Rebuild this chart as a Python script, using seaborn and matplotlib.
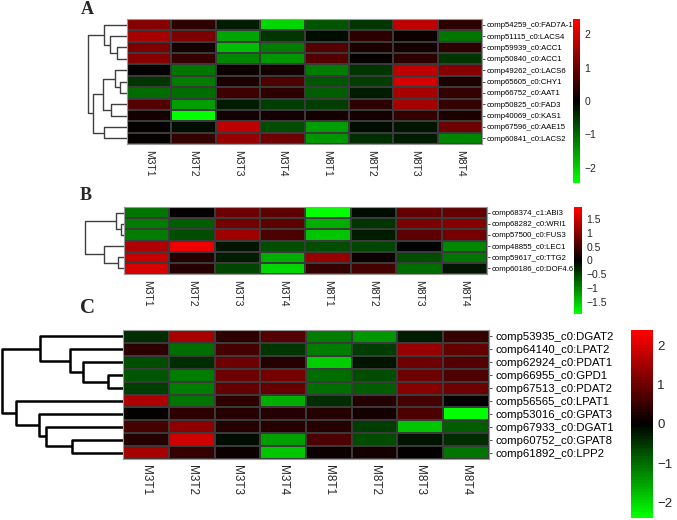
import numpy as np
import pandas as pd
import matplotlib
matplotlib.use("Agg")
import matplotlib.pyplot as plt
import seaborn as sns
from matplotlib.colors import LinearSegmentedColormap

# Samples (columns, same for all panels)
samples = ["M3T1", "M3T2", "M3T3", "M3T4", "M8T1", "M8T2", "M8T3", "M8T4"]

# Panel A: fatty acid genes
a_genes = ["comp54259_c0:FAD7A-1", "comp51115_c0:LACS4", "comp59939_c0:ACC1",
           "comp50840_c0:ACC1", "comp49262_c0:LACS6", "comp65605_c0:CHY1",
           "comp66752_c0:AAT1", "comp50825_c0:FAD3", "comp40069_c0:KAS1",
           "comp67596_c0:AAE15", "comp60841_c0:LACS2"]
a_values = [
    [1.3, 0.4, -0.3, -2.0, -0.8, -0.5, 1.8, 0.4],
    [1.6, 1.2, -1.6, -0.5, -0.1, 0.4, 0.1, -1.1],
    [1.2, 0.2, -1.8, -1.2, 0.8, 0.3, 0.2, 0.4],
    [1.3, 0.5, -1.3, -1.4, 0.8, 0.0, 0.4, -0.5],
    [0.0, -1.1, 0.1, 0.2, -1.2, -0.5, 1.8, 1.3],
    [-0.5, -1.2, 0.3, 0.7, -0.8, -0.6, 2.0, 0.3],
    [-1.0, -1.0, 0.6, 0.4, -0.9, -0.3, 1.6, 0.5],
    [0.8, -1.5, -0.3, -0.6, -0.6, 0.4, 1.6, 0.5],
    [0.2, -2.4, 0.2, 0.2, 0.2, 0.2, 0.5, 0.3],
    [0.0, -0.1, 1.8, -0.7, -1.5, -0.1, -0.2, 1.0],
    [0.0, 0.5, 1.4, 1.0, -1.4, -0.4, -0.3, -1.3],
]
# merges: (child, child, height); leaves 0..n-1, new nodes n, n+1, ...
a_links = [(2, 3, 10), (1, 11, 16.7), (0, 12, 22.7), (5, 6, 6.7), (4, 14, 12.3),
           (7, 8, 16), (15, 16, 24.3), (9, 10, 22.7), (17, 18, 34), (13, 19, 39.3)]

# Panel B: transcription factors
b_genes = ["comp68374_c1:ABI3", "comp68282_c0:WRI1", "comp57500_c0:FUS3",
           "comp48855_c0:LEC1", "comp59617_c0:TTG2", "comp60186_c0:DOF4.6"]
b_values = [
    [-0.9, 0.0, 0.8, 0.7, -1.9, -0.1, 0.75, 0.75],
    [-0.95, -0.7, 0.9, 0.7, -1.3, -0.4, 0.95, 1.0],
    [-0.95, -0.55, 1.2, 0.6, -1.5, -0.2, 0.7, 0.9],
    [1.3, 1.8, -0.15, -0.55, -0.6, -0.5, -0.05, -1.0],
    [1.5, 0.3, -0.2, -1.3, 1.1, 0.1, -0.6, -0.9],
    [1.6, 0.3, -0.5, -1.6, 0.4, 0.5, -0.8, -0.15],
]
b_links = [(1, 2, 3.3), (0, 6, 8.3), (4, 5, 5.7), (3, 8, 20), (7, 9, 39)]

# Panel C: TAG assembly genes
c_genes = ["comp53935_c0:DGAT2", "comp64140_c0:LPAT2", "comp62924_c0:PDAT1",
           "comp66955_c0:GPD1", "comp67513_c0:PDAT2", "comp56565_c0:LPAT1",
           "comp53016_c0:GPAT3", "comp67933_c0:DGAT1", "comp60752_c0:GPAT8",
           "comp61892_c0:LPP2"]
c_values = [
    [-0.4, 1.5, 0.4, 0.8, -1.2, -1.4, -0.3, 0.5],
    [0.4, -1.0, 0.6, -0.5, -1.2, -0.6, 1.4, 0.9],
    [-0.7, -0.4, 1.0, 0.3, -1.9, -0.2, 1.0, 0.8],
    [-0.8, -1.2, 1.0, 1.1, -1.0, -0.7, 1.0, 0.7],
    [-0.6, -1.2, 0.9, 0.9, -1.0, -0.9, 1.2, 1.0],
    [1.6, -1.1, 0.4, -1.6, -0.4, 0.3, 0.6, 0.0],
    [0.05, 0.4, 0.3, 0.3, 0.3, 0.2, 0.7, -2.4],
    [0.6, 1.3, 0.3, 0.3, 0.3, -0.6, -1.8, -0.9],
    [0.3, 1.9, -0.1, -1.5, 0.7, -0.7, -0.2, -0.4],
    [1.5, 0.5, 0.1, -1.8, 0.1, 0.15, 0.05, -1.1],
]
c_links = [(3, 4, 15), (2, 10, 40), (1, 11, 53.3), (0, 12, 83.3), (8, 9, 50.7),
           (7, 14, 77.3), (6, 15, 84.3), (5, 16, 106.7), (13, 17, 121)]

W, H = 677, 520
cmap = LinearSegmentedColormap.from_list("gkr", ["#00FF00", "#000000", "#FF0000"], N=64)


def fig_rect(x0, y0, x1, y1):
    # pixel box (from top-left) -> figure fraction rect
    return [x0 / W, 1 - y1 / H, (x1 - x0) / W, (y1 - y0) / H]


def draw_dendro(ax, links, n, width_px, color, lw):
    pos = {i: i + 0.5 for i in range(n)}
    hgt = {i: 0.0 for i in range(n)}
    for k, (a, b, h) in enumerate(links):
        ax.plot([hgt[a], h, h, hgt[b]], [pos[a], pos[a], pos[b], pos[b]],
                color=color, lw=lw, solid_capstyle="butt")
        pos[n + k] = (pos[a] + pos[b]) / 2
        hgt[n + k] = h
    ax.set_xlim(width_px, 0)
    ax.set_ylim(n, 0)
    ax.axis("off")


def fmt_tick(v):
    s = f"{v:g}"
    return s.replace("-", "\u2212")


def panel(heat_box, cbar_box, dend_x0, genes, values, links, vmax, ticks,
          row_size, row_pad, col_size, cbar_size, dcolor, dlw, label, label_xy, label_size):
    df = pd.DataFrame(values, index=genes, columns=samples)
    ax = fig.add_axes(fig_rect(*heat_box))
    cax = fig.add_axes(fig_rect(*cbar_box))
    sns.heatmap(df, ax=ax, cbar_ax=cax, cmap=cmap, vmin=-vmax, vmax=vmax,
                linewidths=0.3, linecolor="#3a3a3a")
    ax.yaxis.tick_right()
    ax.set_yticks(np.arange(len(genes)) + 0.5)
    ax.set_yticklabels(genes, rotation=0, fontsize=row_size)
    ax.set_xticks(np.arange(len(samples)) + 0.5)
    ax.set_xticklabels(samples, rotation=270, fontsize=col_size, va="top")
    ax.tick_params(axis="y", length=2, pad=row_pad, width=0.6, colors="#333333",
                   labelcolor="black")
    ax.tick_params(axis="x", length=0, pad=4)
    ax.set_xlabel("")
    ax.set_ylabel("")
    for sp in ax.spines.values():
        sp.set_visible(True)
        sp.set_color("#9a9a9a")
        sp.set_linewidth(0.8)

    cax.set_yticks(ticks)
    cax.set_yticklabels([fmt_tick(t) for t in ticks], fontsize=cbar_size)
    cax.tick_params(length=0, pad=3)
    for sp in cax.spines.values():
        sp.set_visible(False)

    dax = fig.add_axes(fig_rect(dend_x0, heat_box[1], heat_box[0], heat_box[3]))
    draw_dendro(dax, links, len(genes), heat_box[0] - dend_x0, dcolor, dlw)

    fig.text(label_xy[0] / W, 1 - label_xy[1] / H, label, fontsize=label_size,
             fontweight="bold", family=["Liberation Serif", "DejaVu Serif"],
             ha="left", va="baseline")


sns.set_theme(style="white")
plt.rcParams["font.family"] = ["Liberation Sans", "DejaVu Sans"]

fig = plt.figure(figsize=(W / 100, H / 100), dpi=100)

panel((127, 19, 482, 144), (573, 19, 580, 183), 80, a_genes, a_values, a_links,
      2.45, [-2, -1, 0, 1, 2], 5.6, 1, 7.5, 7.5, "#404040", 1.0,
      "A", (81, 14), 13)

panel((124, 207, 487, 274), (574, 207, 582, 314), 78, b_genes, b_values, b_links,
      1.93, [-1.5, -1, -0.5, 0, 0.5, 1, 1.5], 5.6, 1, 7.5, 7.5, "#404040", 1.0,
      "B", (80, 200), 13)

panel((123, 330, 489, 459), (631, 330, 653, 518), 0, c_genes, c_values, c_links,
      2.4, [-2, -1, 0, 1, 2], 8.2, 3, 8.5, 9.5, "black", 1.8,
      "C", (80, 313), 15)

fig.savefig("out.png", dpi=100)
